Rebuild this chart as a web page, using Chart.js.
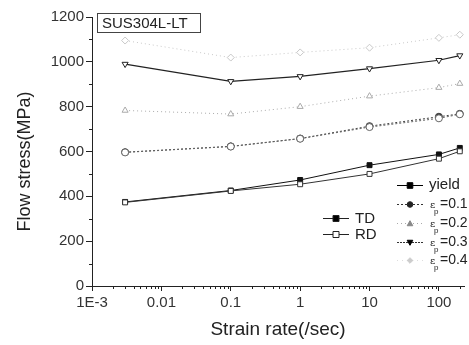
<!DOCTYPE html>
<html>
<head>
<meta charset="utf-8">
<script src="https://cdn.jsdelivr.net/npm/chart.js@4.4.1/dist/chart.umd.min.js"></script>
<style>
  html, body { margin: 0; padding: 0; background: #fff; }
  #wrap { width: 469px; height: 345px; position: relative; }
</style>
</head>
<body>
<div id="wrap"><canvas id="flowChart"></canvas></div>
<script>
// strain rates (/sec)
const strainRates = [0.003, 0.1, 1, 10, 100, 200];
const xTickValues = [0.001, 0.01, 0.1, 1, 10, 100];
const xTickLabels = ['1E-3', '0.01', '0.1', '1', '10', '100'];

// flow stress (MPa)
const yieldTD = [375, 426, 473, 539, 587, 616];
const yieldRD = [373, 424, 454, 500, 568, 601];
const eps01TD = [597, 623, 658, 713, 755, 768];
const eps01RD = [596, 622, 657, 709, 748, 766];
const eps02 = [783, 767, 800, 847, 885, 903];
const eps03 = [990, 913, 935, 970, 1007, 1028];
const eps04 = [1095, 1019, 1042, 1063, 1107, 1121];

const FONT = '"Liberation Sans", Arial, sans-serif';
const toXY = arr => arr.map((v, i) => ({ x: strainRates[i], y: v }));

function marker(ctx, style, x, y, r, fill, stroke) {
    ctx.save();
    ctx.fillStyle = fill;
    ctx.strokeStyle = stroke;
    ctx.lineWidth = 1;
    ctx.setLineDash([]);
    ctx.beginPath();
    if (style === 'rect') {
        ctx.rect(x - r, y - r, 2 * r, 2 * r);
    } else if (style === 'circle') {
        ctx.arc(x, y, r, 0, Math.PI * 2);
    } else if (style === 'triUp') {
        ctx.moveTo(x, y - r); ctx.lineTo(x + r, y + r * 0.8); ctx.lineTo(x - r, y + r * 0.8); ctx.closePath();
    } else if (style === 'triDown') {
        ctx.moveTo(x, y + r); ctx.lineTo(x + r, y - r * 0.8); ctx.lineTo(x - r, y - r * 0.8); ctx.closePath();
    } else if (style === 'diamond') {
        ctx.moveTo(x, y - r); ctx.lineTo(x + r, y); ctx.lineTo(x, y + r); ctx.lineTo(x - r, y); ctx.closePath();
    }
    ctx.fill();
    ctx.stroke();
    ctx.restore();
}

const extras = {
    id: 'extras',
    afterDraw(chart) {
        const ctx = chart.ctx;
        const xs = chart.scales.x, ys = chart.scales.y;
        const a = chart.chartArea;
        ctx.save();
        ctx.strokeStyle = '#222';
        ctx.lineWidth = 1;
        // minor x ticks
        for (let d = -3; d <= 2; d++) {
            for (let m = 2; m <= 9; m++) {
                const v = m * Math.pow(10, d);
                if (v > xs.max) continue;
                const px = Math.round(xs.getPixelForValue(v)) + 0.5;
                ctx.beginPath(); ctx.moveTo(px, a.bottom); ctx.lineTo(px, a.bottom + 3); ctx.stroke();
            }
        }
        // minor y ticks
        for (let v = 100; v < 1200; v += 200) {
            const py = Math.round(ys.getPixelForValue(v)) + 0.5;
            ctx.beginPath(); ctx.moveTo(a.left, py); ctx.lineTo(a.left - 3, py); ctx.stroke();
        }
        // sample label box
        ctx.strokeStyle = '#444';
        ctx.strokeRect(97.5, 13.5, 103, 19);
        ctx.fillStyle = '#222';
        ctx.font = '15px ' + FONT;
        ctx.textBaseline = 'middle';
        ctx.textAlign = 'left';
        ctx.fillText('SUS304L-LT', 102, 23.5);

        // TD / RD legend
        const dirs = [['TD', '#000', 218], ['RD', '#fff', 234]];
        dirs.forEach(([label, fill, y]) => {
            ctx.strokeStyle = '#222';
            ctx.setLineDash([]);
            ctx.beginPath(); ctx.moveTo(323, y + 0.5); ctx.lineTo(349, y + 0.5); ctx.stroke();
            marker(ctx, 'rect', 336, y + 0.5, 3, fill, '#222');
            ctx.fillStyle = '#222';
            ctx.font = '15px ' + FONT;
            ctx.fillText(label, 355, y + 1);
        });

        // strain legend
        const items = [
            ['yield', 'rect', '#000', '#000', [], 185],
            ['0.1', 'circle', '#222', '#333', [2, 2], 204],
            ['0.2', 'triUp', '#888', '#aaa', [1, 3], 223],
            ['0.3', 'triDown', '#000', '#333', [2, 1], 242],
            ['0.4', 'diamond', '#ccc', '#ddd', [1, 4], 260]
        ];
        items.forEach(([label, st, fill, line, dash, y]) => {
            ctx.strokeStyle = line;
            ctx.setLineDash(dash);
            ctx.beginPath(); ctx.moveTo(397, y + 0.5); ctx.lineTo(423, y + 0.5); ctx.stroke();
            ctx.setLineDash([]);
            marker(ctx, st, 410, y + 0.5, 2.8, fill, fill);
            ctx.fillStyle = '#222';
            if (label === 'yield') {
                ctx.font = '15px ' + FONT;
                ctx.fillText('yield', 429, y);
            } else {
                ctx.font = '10px "DejaVu Serif", serif';
                ctx.fillText('\u03b5', 430, y + 1);
                ctx.font = '8px ' + FONT;
                ctx.fillText('p', 434, y + 8);
                ctx.font = '14px ' + FONT;
                ctx.fillText('=' + label, 440, y);
            }
        });
        ctx.restore();
    }
};

function ds(data, color, dash, style, fill, width) {
    return {
        data: toXY(data),
        borderColor: color,
        borderWidth: width || 1,
        borderDash: dash,
        pointStyle: style.s,
        pointRotation: style.r || 0,
        pointRadius: 3.5,
        pointBackgroundColor: fill,
        pointBorderColor: color,
        pointBorderWidth: 1,
        tension: 0
    };
}

new Chart(document.getElementById('flowChart'), {
    type: 'line',
    data: {
        datasets: [
            ds(eps04, '#c8c8c8', [1, 3], { s: 'rectRot' }, '#fff'),
            ds(eps03, '#222', [], { s: 'triangle', r: 180 }, '#fff', 1.2),
            ds(eps02, '#aaa', [1, 3], { s: 'triangle' }, '#fff'),
            ds(eps01RD, '#666', [2, 2], { s: 'circle' }, '#fff'),
            ds(eps01TD, '#444', [2, 2], { s: 'circle' }, '#333'),
            ds(yieldRD, '#333', [], { s: 'rect' }, '#fff'),
            ds(yieldTD, '#111', [], { s: 'rect' }, '#111')
        ]
    },
    options: {
        responsive: true,
        maintainAspectRatio: false,
        animation: false,
        layout: { padding: { top: 17, right: 1, left: 0, bottom: 0 } },
        plugins: { legend: { display: false }, tooltip: { enabled: false } },
        scales: {
            x: {
                type: 'logarithmic',
                min: 0.001,
                max: 230,
                afterBuildTicks: s => { s.ticks = xTickValues.map(v => ({ value: v })); },
                afterFit: s => { s.height = 59; },
                ticks: {
                    autoSkip: false,
                    maxRotation: 0,
                    padding: 3,
                    color: '#333',
                    font: { family: FONT, size: 15 },
                    callback: (v, i) => xTickLabels[i]
                },
                grid: { drawOnChartArea: false, tickLength: 5, color: '#222' },
                border: { color: '#222' },
                title: {
                    display: true,
                    text: 'Strain rate(/sec)',
                    color: '#222',
                    padding: { top: 0, bottom: 4 },
                    font: { family: FONT, size: 19 }
                }
            },
            y: {
                min: 0,
                max: 1200,
                afterFit: s => { s.width = 92; },
                ticks: {
                    stepSize: 200,
                    padding: 2,
                    color: '#333',
                    font: { family: FONT, size: 15 },
                    callback: v => String(v)
                },
                grid: { drawOnChartArea: false, tickLength: 6, color: '#222' },
                border: { color: '#222' },
                title: {
                    display: true,
                    text: 'Flow stress(MPa)    ',
                    color: '#222',
                    padding: { top: 14, bottom: 0 },
                    font: { family: FONT, size: 18 }
                }
            }
        }
    },
    plugins: [extras]
});
</script>
</body>
</html>
